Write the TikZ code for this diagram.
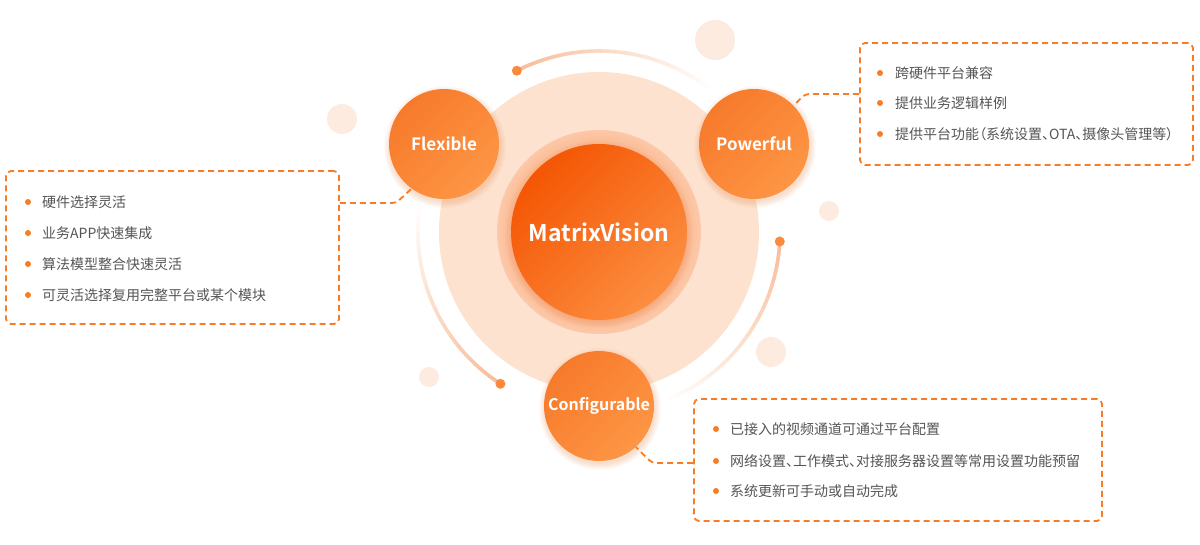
\documentclass[tikz,border=0pt]{standalone}
\usepackage{fontspec}
\setmainfont{Noto Sans CJK SC}[BoldFont={Noto Sans CJK SC Bold}, RawFeature=+palt]
\usetikzlibrary{calc}
\definecolor{orgA}{HTML}{F45604}
\definecolor{orgB}{HTML}{FC8E40}
\definecolor{smA}{HTML}{F77A2B}
\definecolor{smB}{HTML}{FD9645}
\definecolor{pale}{HTML}{FDE2D0}
\definecolor{halo}{HTML}{FCC09C}
\definecolor{deco}{HTML}{FDEBDF}
\definecolor{dashc}{HTML}{F97B24}
\definecolor{dotc}{HTML}{FB8A3C}
\definecolor{txt}{HTML}{555555}
\definecolor{arcc}{HTML}{F8BD98}
\begin{document}
\begin{tikzpicture}[x=1pt,y=1pt,
 smallc/.style={circle, minimum size=110pt, inner sep=0pt, left color=smA, right color=smB, shading angle=45, text=white, font=\bfseries\fontsize{17}{17}\selectfont},
 bigc/.style={circle, minimum size=176pt, inner sep=0pt, left color=orgA, right color=orgB, shading angle=45, text=white, font=\bfseries\fontsize{23}{23}\selectfont},
 infobox/.style={draw=dashc, line width=1.8pt, dash pattern=on 6pt off 4pt, rounded corners=5pt, inner sep=0pt},
 conn/.style={draw=dashc, line width=1.8pt, dash pattern=on 6pt off 4pt, rounded corners=4pt},
 item/.style={anchor=west, text=txt, inner sep=0pt, font=\fontsize{14}{14}\selectfont},
 bullet/.style={circle, fill=dashc, inner sep=0pt, minimum size=6pt},
 decoc/.style={fill=deco},
 arcdot/.style={circle, fill=dotc, inner sep=0pt, minimum size=10pt}
]
\useasboundingbox (0,0) rectangle (1200,-544);
\fill[white] (0,0) rectangle (1200,-544);
\coordinate (ctr) at (599,-232);
% pale disc
\fill[pale] (ctr) circle (160);
% decorative circles
\fill[decoc] (715,-40) circle (20);
\fill[decoc] (342,-119) circle (15);
\fill[decoc] (829,-211) circle (10);
\fill[decoc] (771,-352) circle (15);
\fill[decoc] (429,-377) circle (10);
% fading arcs
\foreach \a in {117,-3,-123} {
  \foreach \i in {0,...,31} {
    \pgfmathsetmacro\s{\a-\i*2}
    \pgfmathsetmacro\p{100-\i*3.1}
    \draw[line width=3.6pt, draw=arcc!\p!white] ([shift={(\s:181)}]ctr) arc[start angle=\s, end angle=\s-2.3, radius=181];
  }
}
\node[arcdot] (d1) at ([shift={(117:181)}]ctr) {};
\node[arcdot] (d2) at ([shift={(-3:181)}]ctr) {};
\node[arcdot] (d3) at ([shift={(-123:181)}]ctr) {};
% halo ring
\foreach \r/\p in {102/75,100/82,98/88,96/94,94/100} {
  \fill[halo!\p!pale] (ctr) circle (\r);
}
% shadows of circles
\foreach \k in {1,...,7} {
  \fill[smA, opacity=0.035] ($(444,-144)+(1,-3)$) circle (54+\k);
  \fill[smA, opacity=0.035] ($(754,-144)+(1,-3)$) circle (54+\k);
  \fill[smA, opacity=0.035] ($(599,-406)+(1,-3)$) circle (54+\k);
  \fill[orgA, opacity=0.025] ($(ctr)+(0,-2)$) circle (87+\k);
}
% main nodes
\node[bigc] (mv) at (ctr) {MatrixVision};
\node[smallc] (flex) at (444,-144) {Flexible};
\node[smallc] (pow) at (754,-144) {Powerful};
\node[smallc, font=\bfseries\fontsize{16}{16}\selectfont] (conf) at (599,-406) {Configurable};
% boxes
\node[infobox, minimum width=333pt, minimum height=153pt] (lbox) at (172.5,-247.5) {};
\node[infobox, minimum width=333pt, minimum height=122pt] (rbox) at (1026.5,-104) {};
\node[infobox, minimum width=408pt, minimum height=122pt] (bbox) at (898,-460) {};
% connectors
\coordinate (lj) at (396,-203);
\coordinate (rj) at (805,-94);
\coordinate (bj) at (652,-463);
\draw[conn] (lbox.east |- lj) -- (lj) -- (flex.234);
\draw[conn] (rbox.west |- rj) -- (rj) -- (pow.44);
\draw[conn] (bbox.west |- bj) -- (bj) -- (conf.-48);
% left items
\node[bullet] (lb1) at (28,-202) {}; \node[item] (lt1) at (42,-202) {硬件选择灵活};
\node[bullet] (lb2) at (28,-233) {}; \node[item] (lt2) at (42,-233) {业务APP快速集成};
\node[bullet] (lb3) at (28,-264) {}; \node[item] (lt3) at (42,-264) {算法模型整合快速灵活};
\node[bullet] (lb4) at (28,-295) {}; \node[item] (lt4) at (42,-295) {可灵活选择复用完整平台或某个模块};
% right items
\node[bullet] (rb1) at (880,-73) {}; \node[item] (rt1) at (895,-73) {跨硬件平台兼容};
\node[bullet] (rb2) at (880,-103) {}; \node[item] (rt2) at (895,-103) {提供业务逻辑样例};
\node[bullet] (rb3) at (880,-134) {}; \node[item] (rt3) at (895,-134) {提供平台功能（系统设置、OTA、摄像头管理等）};
% bottom items
\node[bullet] (bb1) at (716,-429) {}; \node[item] (bt1) at (730,-429) {已接入的视频通道可通过平台配置};
\node[bullet] (bb2) at (716,-461) {}; \node[item] (bt2) at (730,-461) {网络设置、工作模式、对接服务器设置等常用设置功能预留};
\node[bullet] (bb3) at (716,-491) {}; \node[item] (bt3) at (730,-491) {系统更新可手动或自动完成};
\end{tikzpicture}
\end{document}
